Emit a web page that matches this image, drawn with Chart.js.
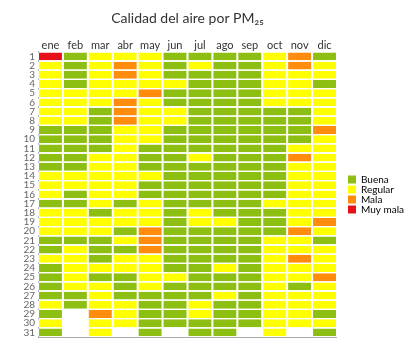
<!DOCTYPE html>
<html><head><meta charset="utf-8">
<script src="https://cdn.jsdelivr.net/npm/chart.js@4.4.1/dist/chart.umd.min.js"></script>
<style>html,body{margin:0;padding:0;background:#fff}#wrap{width:414px;height:356px}</style>
</head><body><div id="wrap"><canvas id="c"></canvas></div>
<script>
// Data: status codes per day (1 = Buena, 2 = Regular, 3 = Mala, 4 = Muy mala, null = no day)
const months = ['ene','feb','mar','abr','may','jun','jul','ago','sep','oct','nov','dic'];
const days = ['1','2','3','4','5','6','7','8','9','10','11','12','13','14','15','16','17','18','19','20','21','22','23','24','25','26','27','28','29','30','31'];
const statusLabels = ['Buena','Regular','Mala','Muy mala'];
const statusColors = ['#8dbf13','#ffff00','#ff8c0c','#e81018'];

const ene = [4,2,2,2,2,2,2,2,1,1,1,1,1,2,2,2,1,2,2,2,1,1,2,1,1,1,1,2,1,2,1];
const feb = [1,1,1,1,2,2,2,2,1,1,1,1,1,2,2,1,1,2,2,2,1,2,2,2,2,2,1,1,null,null,null];
const mar = [2,2,2,2,2,2,1,1,1,1,1,2,2,2,2,2,2,1,2,2,1,1,1,2,1,2,2,2,3,2,2];
const abr = [2,3,3,2,2,3,3,3,2,2,2,2,2,2,2,2,1,2,2,1,2,1,2,2,1,1,1,2,2,2,null];
const may = [2,2,2,2,3,2,2,2,2,2,1,1,1,2,1,1,2,2,2,3,3,3,2,2,2,2,1,1,1,1,1];
const jun = [1,1,1,2,1,1,2,2,1,1,1,1,1,1,1,1,1,1,1,1,1,1,1,1,2,1,1,1,1,1,null];
const jul = [1,2,1,1,1,1,1,1,1,1,1,2,1,1,1,1,1,2,2,1,1,1,1,1,1,1,1,2,2,1,1];
const ago = [1,1,1,1,1,1,1,1,1,1,1,1,1,1,1,1,1,1,2,1,1,1,1,2,1,1,2,1,1,1,1];
const sep = [1,1,1,1,1,1,1,1,1,1,1,1,1,1,1,1,1,1,1,1,1,1,1,1,1,1,1,1,1,1,null];
const oct = [2,2,2,2,2,2,1,1,1,1,1,1,1,1,1,1,2,1,1,1,2,2,2,2,2,2,2,2,2,2,2];
const nov = [3,3,2,2,2,2,1,1,1,1,2,3,2,2,2,2,2,2,2,3,2,2,3,2,2,1,2,2,2,2,null];
const dic = [1,2,2,1,2,2,2,2,3,2,2,2,2,2,2,2,2,2,3,2,1,2,2,2,3,2,2,2,1,2,1];
const monthValues = [ene,feb,mar,abr,may,jun,jul,ago,sep,oct,nov,dic];

const FONT = 'Lato, "Open Sans", sans-serif';

const datasets = monthValues.map((vals, m) => ({
  label: months[m],
  data: vals.map(v => v == null ? null : [m + 0.5, m + 1.5]),
  backgroundColor: vals.map(v => v == null ? 'rgba(0,0,0,0)' : statusColors[v - 1]),
  borderColor: '#ffffff',
  borderWidth: {left: 1, right: 1, top: 0, bottom: 0},
  borderSkipped: false,
  grouped: false,
  categoryPercentage: 1,
  barPercentage: 0.86
}));

new Chart(document.getElementById('c'), {
  type: 'bar',
  data: { labels: days, datasets },
  options: {
    indexAxis: 'y',
    responsive: true,
    maintainAspectRatio: false,
    animation: false,
    layout: { padding: 0 },
    scales: {
      x: {
        type: 'linear', position: 'top', min: 0.5, max: 12.5,
        afterBuildTicks: s => { s.ticks = months.map((_, i) => ({ value: i + 1 })); },
        ticks: { callback: v => months[v - 1], color: '#333', font: { family: FONT, size: 11 }, padding: 0, autoSkip: false, maxRotation: 0 },
        grid: { display: false, drawTicks: false },
        border: { display: false },
        afterFit: s => { s.height = 15; }
      },
      y: {
        type: 'category', position: 'left', offset: true,
        grid: { display: false, drawTicks: false },
        border: { display: true, color: '#aaa' },
        ticks: { autoSkip: false, color: '#666', font: { family: FONT, size: 10 }, padding: 3 },
        afterFit: s => { s.width = 38; }
      },
      xb: {
        type: 'linear', position: 'bottom',
        grid: { display: false, drawTicks: false },
        ticks: { display: false },
        border: { display: true, color: '#aaa' },
        afterFit: s => { s.height = 19; }
      },
      yr: {
        type: 'linear', position: 'right',
        grid: { display: false, drawTicks: false },
        ticks: { display: false },
        border: { display: false },
        afterFit: s => { s.width = 11; }
      }
    },
    plugins: {
      title: {
        display: true, fullSize: false,
        text: 'Calidad del aire por PM₂₅',
        color: '#333', font: { family: FONT, size: 14, weight: 'normal' },
        padding: { top: 10, bottom: 10 }
      },
      legend: {
        display: true, position: 'right', fullSize: false, align: 'center',
        onClick: null,
        labels: {
          boxWidth: 8, boxHeight: 8, padding: 0, color: '#444',
          font: { family: FONT, size: 10 },
          generateLabels: () => statusLabels.map((t, i) => ({
            text: t, fillStyle: statusColors[i], strokeStyle: statusColors[i], lineWidth: 0, hidden: false, datasetIndex: null
          }))
        }
      },
      tooltip: { enabled: false }
    }
  }
});
</script>
</body></html>
